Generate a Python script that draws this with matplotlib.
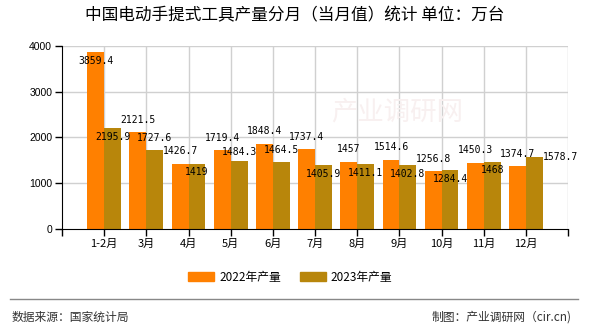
import numpy as np
import matplotlib
matplotlib.use("Agg")
import matplotlib.pyplot as plt
from matplotlib.patches import Patch

plt.rcParams['font.family'] = ['Noto Sans CJK SC', 'DejaVu Sans']

months = ['1-2月', '3月', '4月', '5月', '6月', '7月', '8月', '9月', '10月', '11月', '12月']
output_2022 = [3859.4, 2121.5, 1426.7, 1719.4, 1848.4, 1737.4, 1457, 1514.6, 1256.8, 1450.3, 1374.7]
output_2023 = [2195.9, 1727.6, 1419, 1484.3, 1464.5, 1405.9, 1411.1, 1402.8, 1284.4, 1468, 1578.7]
series_names = ['2022年产量', '2023年产量']
y_ticks = [0, 1000, 2000, 3000, 4000]

# label shifts in pixels, so neighbouring labels don't sit on top of each other
shift_2022 = [(0, -9), (0, 12), (0, 13), (0, 12), (0, 13), (0, 12),
              (0, 13), (0, 13), (0, 12), (0, 13), (0, 12)]
shift_2023 = [(0, -9), (0, 12), (0, -8), (0, 9), (0, 12), (0, -9),
              (0, -9), (0, -9), (0, -9), (0, -8), (26, 0)]

c_2022 = '#FF8000'
c_2023 = '#B8860B'


def fmt(v):
    return ('%g' % v)


def main():
    fig = plt.figure(figsize=(5.9, 3.3), dpi=100)
    ax = fig.add_axes([0.105, 0.306, 0.858, 0.555])

    x = np.arange(1, len(months) + 1)
    w = 0.4
    bars1 = ax.bar(x - w / 2, output_2022, w, color=c_2022, zorder=2)
    bars2 = ax.bar(x + w / 2, output_2023, w, color=c_2023, zorder=2)

    for bars, vals, shifts in ((bars1, output_2022, shift_2022), (bars2, output_2023, shift_2023)):
        for b, v, (dx, dy) in zip(bars, vals, shifts):
            ax.annotate(fmt(v), (b.get_x() + b.get_width() / 2, v),
                        xytext=(dx, dy), textcoords='offset pixels',
                        ha='center', va='center', fontsize=7,
                        family='DejaVu Sans Mono', color='black', zorder=4)

    ax.set_xlim(0, 12)
    ax.set_ylim(0, 4000)
    ax.set_yticks(y_ticks)
    ax.set_yticklabels([str(t) for t in y_ticks], family='Liberation Sans', fontsize=7.5)
    ax.set_xticks(list(range(0, 13)))
    ax.set_xticklabels([''] + months + [''], fontsize=8)
    ax.tick_params(axis='both', length=5, width=1, color='black', pad=2)

    for gx in range(1, 13):
        ax.axvline(gx, color='#D0D0D0', lw=1, zorder=1)
    for gy in y_ticks[1:]:
        ax.axhline(gy, color='#D0D0D0', lw=1, zorder=1)

    for s in ('top', 'right'):
        ax.spines[s].set_visible(False)
    ax.spines['left'].set_color('black')
    ax.spines['bottom'].set_color('black')

    # faint site mark behind the bars
    fig.text(397 / 590, 1 - 112 / 330, '产业调研网', fontsize=19, color='#F8F0F0',
             ha='center', va='center', zorder=0)

    fig.text(0.5, 1 - 16 / 330, '中国电动手提式工具产量分月（当月值）统计 单位：万台',
             ha='center', va='center', fontsize=12)

    handles = [Patch(color=c_2022), Patch(color=c_2023)]
    fig.legend(handles, series_names, loc='center', bbox_to_anchor=(0.492, 1 - 277 / 330),
               ncol=2, frameon=False, fontsize=8.5, handlelength=2.2, handleheight=0.9,
               handletextpad=0.4, columnspacing=1.6)

    fig.add_artist(plt.Line2D([10 / 590, 578 / 590], [1 - 299 / 330, 1 - 299 / 330],
                              color='#888888', lw=1))
    fig.text(12 / 590, 1 - 317 / 330, '数据来源：国家统计局', ha='left', va='center',
             fontsize=8.5, color='#333333')
    fig.text(572 / 590, 1 - 317 / 330, '制图：产业调研网（cir.cn)', ha='right', va='center',
             fontsize=8.5, color='#333333')

    fig.savefig('out.png', dpi=100)


if __name__ == "__main__":
    main()
